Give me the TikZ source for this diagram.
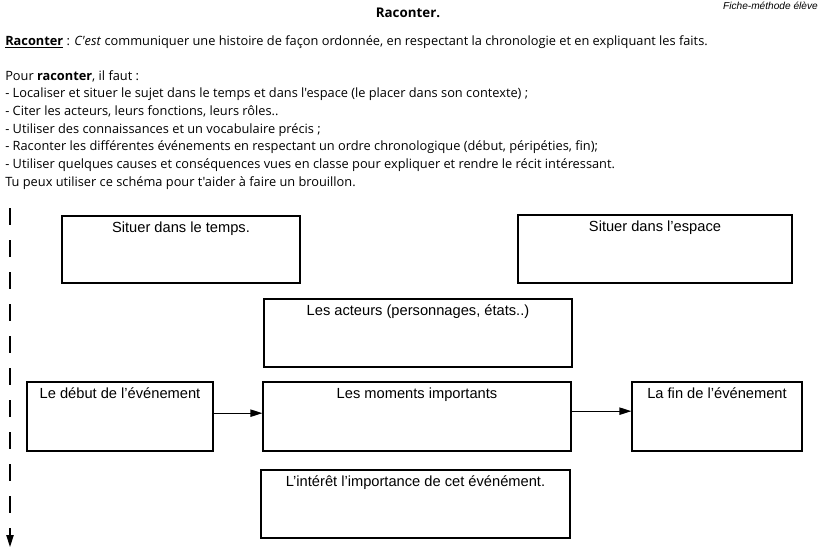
\documentclass[tikz,border=0pt]{standalone}
\usepackage{fontspec}
\setmainfont{Liberation Sans}
\newfontfamily\notefont{Open Sans}
\usetikzlibrary{arrows.meta, positioning}

\begin{document}
\begin{tikzpicture}[
      x=0.75pt, y=-0.75pt,
      >={Triangle[length=9pt, width=5.5pt]},
      box/.style={rectangle, draw, line width=0.9pt, inner sep=0pt},
      boxlabel/.style={anchor=north, inner sep=4.5pt, font=\fontsize{11}{13}\selectfont},
      notes/.style={anchor=north west, align=left, inner sep=0pt,
        font=\notefont\fontsize{9.6}{13.25}\selectfont}
    ]
    \useasboundingbox (0,0) rectangle (824,560);

    % header
    \node[font=\notefont\bfseries\fontsize{10}{12}\selectfont] (titre) at (408,13) {Raconter.};
    \node[anchor=north east, inner sep=0pt, font=\itshape\fontsize{7.6}{9}\selectfont] (fiche) at (818,2) {Fiche-méthode élève};
    \node[notes, anchor=west] (defin) at (5,42) {\textbf{\underline{Raconter}} : \textit{C'est} communiquer une histoire de façon ordonnée, en respectant la chronologie et en expliquant les faits.};
    \node[notes] (liste) at (5,70) {Pour \textbf{raconter}, il faut :\\
      - Localiser et situer le sujet dans le temps et dans l'espace (le placer dans son contexte) ;\\
      - Citer les acteurs, leurs fonctions, leurs rôles..\\
      - Utiliser des connaissances et un vocabulaire précis ;\\
      - Raconter les différentes événements en respectant un ordre chronologique (début, péripéties, fin);\\
      - Utiliser  quelques causes et conséquences vues en classe pour expliquer et rendre le récit intéressant.\\
      Tu peux utiliser ce schéma pour t'aider à faire un brouillon.};

    % boxes
    \node[box, minimum width=178.5pt, minimum height=50.25pt, label={[boxlabel]north:Situer dans le temps.}] (temps) at (181,249.5) {};
    \node[box, minimum width=205.5pt, minimum height=51pt, label={[boxlabel]north:Situer dans l'espace}] (espace) at (655,249) {};
    \node[box, minimum width=231pt, minimum height=51pt, label={[boxlabel]north:Les acteurs (personnages, états..)}] (acteurs) at (418,333) {};
    \node[box, minimum width=139.5pt, minimum height=51.75pt, label={[boxlabel]north:Le début de l'événement}] (debut) at (120,416.5) {};
    \node[box, minimum width=231pt, minimum height=51.75pt, label={[boxlabel]north:Les moments importants}] (moments) at (417,416.5) {};
    \node[box, minimum width=127.5pt, minimum height=51.75pt, label={[boxlabel]north:La fin de l'événement}] (fin) at (717,416.5) {};
    \node[box, minimum width=231.75pt, minimum height=51pt, label={[boxlabel]north:L'intérêt l'importance de cet événément.}] (interet) at (415.5,504) {};

    \draw[->, line width=0.9pt] ([yshift=2.5pt]debut.east) -- ([yshift=2.5pt]moments.west);
    \draw[->, line width=0.9pt] ([yshift=4pt]moments.east) -- ([yshift=4pt]fin.west);

    % time line
    \coordinate (haut) at (10,208);
    \coordinate (bas) at (10,547);
    \draw[->, line width=1.1pt, dash pattern=on 12.75pt off 11.25pt] (haut) -- (bas);
  \end{tikzpicture}
\end{document}
